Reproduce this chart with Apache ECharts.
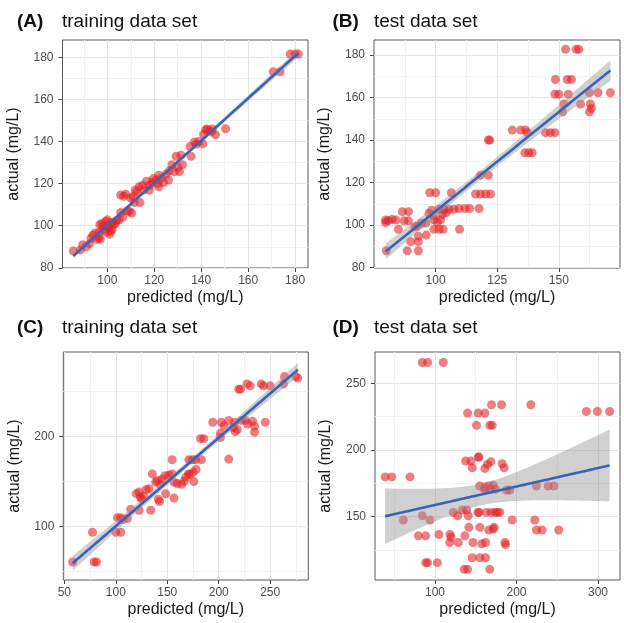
<!DOCTYPE html>
<html><head><meta charset="utf-8">
<script src="https://cdn.jsdelivr.net/npm/echarts@6/dist/echarts.min.js"></script>
<style>html,body{margin:0;padding:0;background:#fff}#c{width:624px;height:623px}</style>
</head><body><div id="c"></div>
<script>
// ---------- data ----------
const panelLabels = ['(A)', '(B)', '(C)', '(D)'];
const panelTitles = ['training data set', 'test data set', 'training data set', 'test data set'];
const xName = 'predicted (mg/L)';
const yName = 'actual (mg/L)';

const predA = [85.5,88.5,89.5,91,92.5,93,93.8,94.7,95.5,96.4,97,96.5,96.8,97.5,98,98.5,99.3,99.5,100,100.3,100.7,101,101.4,101.8,102.1,102.5,103.5,104,105,105.7,105.7,106.5,107,107.9,108.5,109.3,110,110.4,111,111.5,111.9,112.5,113.6,113.9,115,115.5,116.7,117.9,118.1,119,119.6,120.7,121.5,121.9,121.9,123,124,125,126.1,126.4,127.5,128.6,129.3,130.1,130.7,131.4,132,135.3,135.7,137.1,137.9,139,140.7,141,141.9,142.5,143.3,144.3,144.8,146.1,150.4,170.7,173.6,177.9,180,181.4];
const actA  = [88,88.5,91,90,91.5,94,95.5,96.5,93.5,94.2,93.5,97,100.5,101,98,99.5,102,97,102.8,100,98.9,96,97.4,101.5,98.2,100.5,101,102.5,102.8,106.3,114.6,104,114,115,107,106.8,113.1,106,113.9,111,117,116,118.5,111,119.3,117,121.2,116.9,119.3,120.5,122.4,121.7,120,124,118.5,122.5,120.5,124.5,121.7,126.1,129,125.7,133,127.7,125.7,133.5,129,137.7,133,139.8,138.7,140,139,143.4,145.6,146,145.3,144.6,146,143.3,146.1,173.2,173.2,181.6,181.6,181.6];

const predB = [80,79.7,79.7,80.8,82.4,83.8,84.9,86.5,89,87.2,89,88.5,93,89.9,93,93,91.6,92.6,94.3,96,96.2,97.6,100,97.3,98.4,99,99.3,100.7,102,99.3,101.4,103,101.4,103.4,105.4,107.4,109.5,111.9,113.8,102.7,104.3,106.4,109.7,117.6,116.2,118.2,120.3,122.3,118.2,121.4,121.4,122,131.1,134.5,136.5,137.2,136.2,137.8,139.2,144.6,146.6,148.4,148.6,153.4,155.1,148.4,150,153.8,152.7,157,158.1,152,151.6,158.8,162.8,163.2,162.4,162.4,165.9,170.9];
const actB  = [87.9,102.4,101.2,102.1,102.7,102.4,98,106.3,106.3,102,102,87.9,87.9,92.2,94.8,92.2,99.2,99.5,101,101,95.3,115.2,115.2,105.5,107,104.7,102.5,101.3,102.5,98,98,98,107.5,107.5,107.5,107.5,107.8,107.8,107.8,105,105.8,115.2,98,107.8,114.6,114.6,114.6,114.6,123.5,123.5,140,140,144.7,144.7,144.7,143.5,134,134,134,143.5,143.5,143.5,168.5,168.5,168.5,161.6,161.6,161.6,182.7,182.7,182.7,157,153.3,157,157,154.9,153.3,162.3,162.3,162.3];

const predC = [58.1,77.4,79,81.3,100,104.8,101.6,104.8,107,111.3,114.5,122.6,120,122.6,124,125.2,127,129.7,132.3,133.9,135.5,138.7,140.3,141.3,142.5,143,145.2,147.7,151.6,154.8,148.4,154.8,156.5,156.5,159.7,163.9,166.2,168,171,174.2,177.4,183.2,170.5,175,178,175.8,172,182.3,185.5,194.2,202.6,209.7,215.5,221.9,225.8,232.9,245.2,201.6,201.6,209.7,214,216,218,234.8,234.8,219.4,221,227.4,230.6,241.3,243.5,250,262.9,263.9,274.8,276.8,205,228];
const actC  = [60.8,93.8,60.8,60.8,93.8,93.8,110,110,108,109.2,119.4,118.3,136.6,138.5,133,130.4,134,141.4,142.1,118.3,158.6,149.5,151.3,130.4,128,147,153,156.7,157.4,158.6,136.6,174.4,131.9,149.5,148,147,150.5,155,174.4,174.4,174.4,174.4,158.6,160.5,163.5,150.2,158,197.8,197.8,216,216,218,216,218,218,217,216,203.7,199,175.1,210,205.5,208,205,211.7,252.7,252.7,258.6,256.4,258.6,256.4,256.4,258.6,266.7,266.7,265,212,214];

const predD = [84.5,91,110.2,169.4,181.6,217.6,140,153,161.2,285.7,299.2,314.3,151,167.3,170.2,153,154,137.6,144,145.7,161.2,164.5,168.6,182.4,184.9,38.8,47,69.4,155,161,166,171.4,174.3,187.8,191.8,161,168,224.5,238.8,246,61.2,84.5,93.9,122.4,127.8,133.5,138.8,140.8,152.7,154,163,169,174,176.5,179.5,194.7,222.4,141.6,155.1,166,171.4,172.5,224.5,231.4,251.8,79.6,88.6,104.9,118.4,119.6,136.7,118,128.6,146.6,157.4,162,185.8,186.6,88.6,91,102.9,145.7,155.1,162,136,140,167.3];
const actD  = [265.6,265.6,265.6,233.9,233.9,233.9,227.7,227.7,227.7,228.9,228.9,228.9,218.5,218.5,218.5,194.7,194.7,191.7,191.7,186.7,186.2,189.2,191.2,189.7,186.7,179.8,179.8,179.8,173,172.2,173,173.5,170.6,170,170,170,170.5,173,173,173,147.5,150.7,147.5,153.2,150.7,155,155,150.7,153.2,153.2,153.2,153.2,153.2,153.2,153.2,147.5,147.5,142,142,140,140.7,142,140,140,140,135.6,135.6,136.6,136.6,134.6,135.6,130.6,130.6,130.6,129.6,130.6,130.6,129,115.5,115.5,115.5,119.2,119.2,119.2,110.5,110.5,110.5];

// axis tick values
const ticksAx = [100,120,140,160,180], ticksAy = [80,100,120,140,160,180];
const ticksBx = [100,125,150],         ticksBy = [80,100,120,140,160,180];
const ticksCx = [50,100,150,200,250],  ticksCy = [100,200];
const ticksDx = [100,200,300],         ticksDy = [150,200,250];

// ---------- layout ----------
const FONT = '"Liberation Sans", Arial, Helvetica, sans-serif';
const panels = [
  {px: predA, py: actA, tx: ticksAx, ty: ticksAy, grid: {left: 62.5, top: 40, width: 245.5, height: 228}, xr: [80.9, 185.5], yr: [79.9, 188.3], xs: 5, ys: 5, title: [17, 12, 62]},
  {px: predB, py: actB, tx: ticksBx, ty: ticksBy, grid: {left: 374, top: 40, width: 246, height: 228}, xr: [75, 174.8], yr: [79.8, 187.1], xi: 25, ys: 5, title: [332.5, 12, 374]},
  {px: predC, py: actC, tx: ticksCx, ty: ticksCy, grid: {left: 63.3, top: 352, width: 245, height: 228}, xr: [49, 287], yr: [40.8, 294], xs: 5, ys: 2, title: [17, 318.7, 62]},
  {px: predD, py: actD, tx: ticksDx, ty: ticksDy, grid: {left: 375, top: 352, width: 245, height: 228}, xr: [26.4, 327], yr: [102.5, 273.5], xs: 3, ys: 3, title: [332.5, 318.7, 374]}
];

// ---------- linear fit with 95% confidence band (like geom_smooth(method = "lm")) ----------
function tQuant(df) {
  const z = 1.959964;
  return z + (z*z*z + z) / (4*df) + (5*Math.pow(z,5) + 16*z*z*z + 3*z) / (96*df*df);
}
function lmFit(xs, ys) {
  const n = xs.length;
  const mx = xs.reduce((a,b)=>a+b,0)/n, my = ys.reduce((a,b)=>a+b,0)/n;
  let sxx = 0, sxy = 0;
  for (let i=0;i<n;i++){ sxx += (xs[i]-mx)**2; sxy += (xs[i]-mx)*(ys[i]-my); }
  const b = sxy/sxx, a = my - b*mx;
  let sse = 0;
  for (let i=0;i<n;i++){ sse += (ys[i]-a-b*xs[i])**2; }
  const s = Math.sqrt(sse/(n-2)), t = tQuant(n-2);
  const x0 = Math.min(...xs), x1 = Math.max(...xs);
  const line = [], upper = [], lower = [];
  const N = 80;
  for (let k=0;k<=N;k++){
    const x = x0 + (x1-x0)*k/N;
    const yh = a + b*x;
    const se = s*Math.sqrt(1/n + (x-mx)**2/sxx);
    line.push([x, yh]); upper.push([x, yh + t*se]); lower.push([x, yh - t*se]);
  }
  return {line, upper, lower};
}

const grids = [], xAxes = [], yAxes = [], series = [], titles = [];
const tickLabel = {color: '#4d4d4d', fontSize: 12, fontFamily: FONT};
const axisName = {color: '#1a1a1a', fontSize: 16, fontFamily: FONT};

function makeAxis(dim, i, range, ticks, split, interval) {
  const ax = {
    type: 'value', gridIndex: i, min: range[0], max: range[1], scale: true,
    name: dim === 'x' ? xName : yName, nameLocation: 'middle',
    nameGap: dim === 'x' ? 22 : 41,
    nameTextStyle: axisName,
    axisLine: {show: false},
    axisTick: {show: true, length: 4, inside: false, lineStyle: {color: '#444', width: 1}, customValues: ticks},
    axisLabel: Object.assign({}, tickLabel, {margin: dim === 'x' ? 7 : 9, customValues: ticks,
      formatter: v => ticks.some(t => Math.abs(t - v) < 1e-6) ? String(Math.round(v)) : ''}),
    splitLine: {show: true, lineStyle: {color: '#e4e4e4', width: 1}},
    minorTick: {show: false, splitNumber: 2},
    minorSplitLine: {show: true, lineStyle: {color: '#f1f1f1', width: 1}}
  };
  if (interval) ax.interval = interval; else ax.splitNumber = split;
  return ax;
}

panels.forEach((p, i) => {
  grids.push(Object.assign({show: true, borderColor: '#5a5a5a', borderWidth: 1, backgroundColor: '#fff', containLabel: false, outerBoundsMode: 'none'}, p.grid));
  xAxes.push(makeAxis('x', i, p.xr, p.tx, p.xs, p.xi));
  yAxes.push(makeAxis('y', i, p.yr, p.ty, p.ys, p.yi));
  titles.push({text: panelLabels[i], left: p.title[0], top: p.title[1], padding: 0,
    textStyle: {fontSize: 19, fontWeight: 'bold', color: '#111', fontFamily: FONT}});
  titles.push({text: panelTitles[i], left: p.title[2], top: p.title[1], padding: 0,
    textStyle: {fontSize: 19, fontWeight: 'normal', color: '#111', fontFamily: FONT}});

  const pts = p.px.map((x, k) => [x, p.py[k]]);
  const f = lmFit(p.px, p.py);
  series.push({type: 'scatter', xAxisIndex: i, yAxisIndex: i, data: pts, symbolSize: 9,
    itemStyle: {color: 'rgba(228,32,36,0.72)'}, z: 2, silent: true, animation: false});
  series.push({type: 'custom', xAxisIndex: i, yAxisIndex: i, data: [f.line[0]], z: 3, silent: true, animation: false, clip: true,
    renderItem: (params, api) => {
      const poly = f.upper.map(d => api.coord(d)).concat(f.lower.slice().reverse().map(d => api.coord(d)));
      return {type: 'polygon', shape: {points: poly}, style: {fill: 'rgba(150,150,150,0.45)'}};
    }});
  series.push({type: 'line', xAxisIndex: i, yAxisIndex: i, data: f.line, showSymbol: false, z: 4, silent: true, animation: false,
    lineStyle: {color: '#3a63b8', width: 2.6}});
});

const chart = echarts.init(document.getElementById('c'), null, {renderer: 'canvas'});
chart.setOption({animation: false, backgroundColor: '#fff', title: titles, grid: grids, xAxis: xAxes, yAxis: yAxes, series: series});
</script>
</body></html>
